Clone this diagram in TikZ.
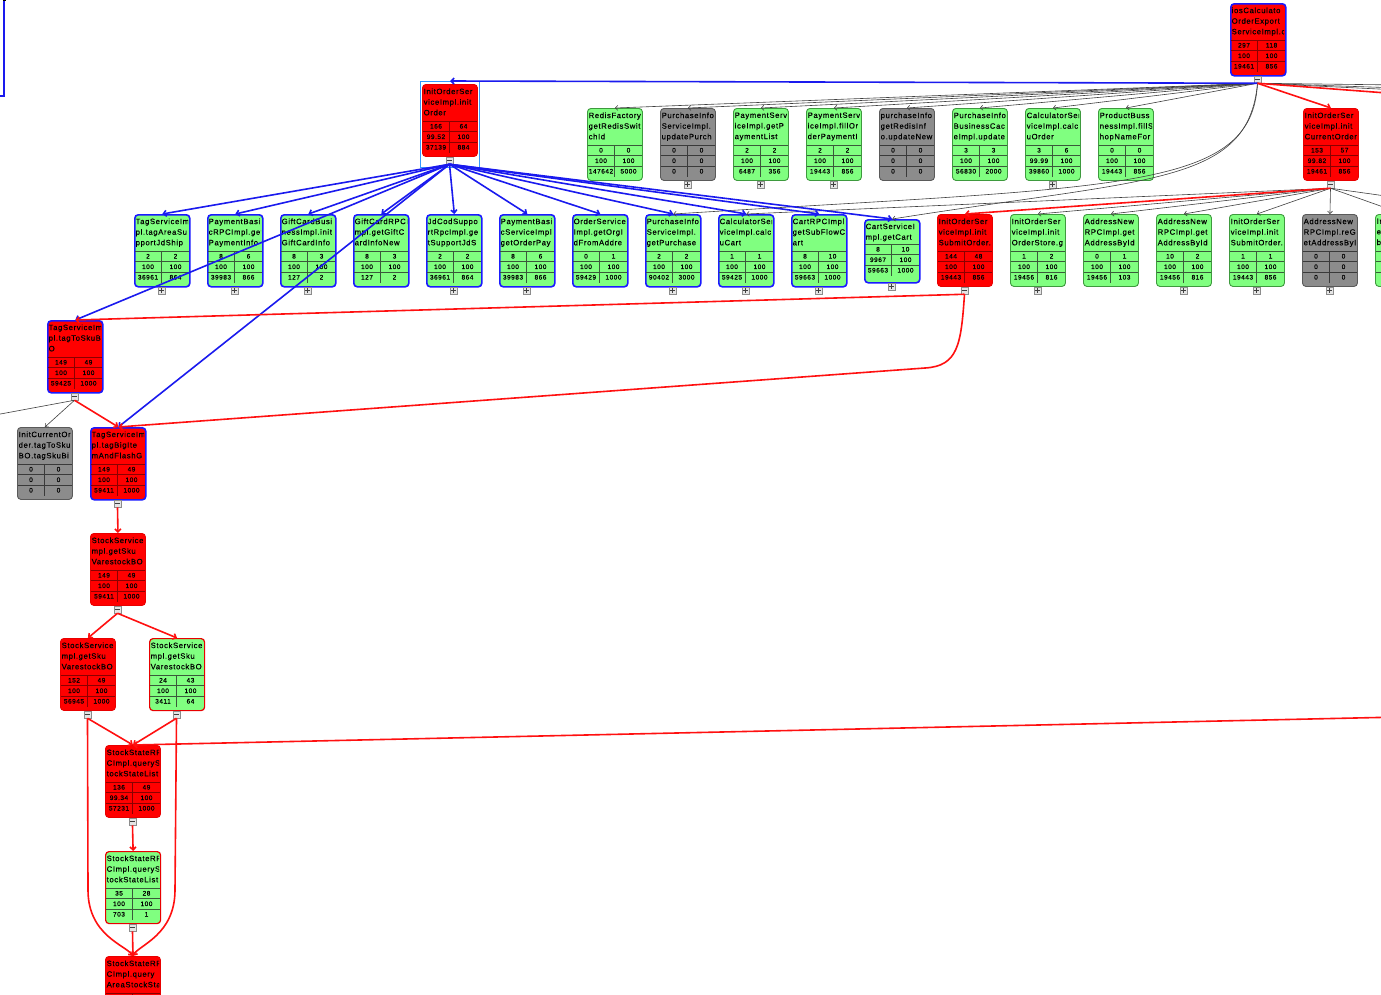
\documentclass[tikz,border=0pt]{standalone}
\usepackage{fontspec}
\setmainfont{Liberation Sans}
\newfontfamily\nbfont[LetterSpace=8,FakeBold=0.35]{Liberation Sans}
\usetikzlibrary{arrows.meta,calc}
\definecolor{gfill}{HTML}{80FF80}
\definecolor{gline}{HTML}{3E9A3E}
\definecolor{gtab}{HTML}{3A5A3A}
\definecolor{rfill}{HTML}{FF0000}
\definecolor{rline}{HTML}{E80000}
\definecolor{rtab}{HTML}{8A0000}
\definecolor{yfill}{HTML}{8C8C8C}
\definecolor{yline}{HTML}{5A5A5A}
\definecolor{ytab}{HTML}{3A3A3A}
\definecolor{bsel}{HTML}{1A1AFF}
\definecolor{selc}{HTML}{3399FF}
\definecolor{edgeB}{HTML}{1A1AEE}
\definecolor{edgeR}{HTML}{FF1010}
\newcommand\nbTabTop{37}
\newcommand\nbHeight{72}
\tikzset{
  nbox/.style={draw, rounded corners=3.5pt, anchor=north west, minimum width=55pt, minimum height=\nbHeight pt, inner sep=0pt, line width=0.9pt},
  kG/.style={fill=gfill, draw=gline},
  kGB/.style={fill=gfill, draw=bsel, line width=1.6pt},
  kGR/.style={fill=gfill, draw=rline, line width=1.2pt},
  kR/.style={fill=rfill, draw=rline},
  kRB/.style={fill=rfill, draw=bsel, line width=1.6pt},
  kY/.style={fill=yfill, draw=yline},
  kGt/.style={draw=gtab, line width=0.6pt},
  kGBt/.style={draw=gtab, line width=0.6pt},
  kGRt/.style={draw=gtab, line width=0.6pt},
  kRt/.style={draw=rtab, line width=0.6pt},
  kRBt/.style={draw=rtab, line width=0.6pt},
  kYt/.style={draw=ytab, line width=0.6pt},
  ntext/.style={anchor=north west, inner sep=0pt, align=left, font=\nbfont\fontsize{7.7}{10.6}\selectfont},
  nval/.style={inner sep=0pt, font=\nbfont\fontsize{6.5}{8}\selectfont},
  tog/.style={draw=black!45, fill=black!10, minimum size=7pt, inner sep=0pt, line width=0.5pt},
  togm/.style={draw=black!75, line width=0.6pt},
  eK/.style={draw=black!75, line width=0.6pt, -{Straight Barb[length=2.5pt,width=5pt]}},
  eB/.style={draw=edgeB, line width=1.6pt, -{Straight Barb[length=3pt,width=6pt]}},
  eR/.style={draw=edgeR, line width=1.6pt, -{Straight Barb[length=3pt,width=6pt]}},
}
\def\NBrow#1#2#3/#4\relax{%
  \node[nval] at (#1+14,#2) {#3};
  \node[nval] at (#1+41.5,#2) {#4};}
\newcommand\NB[9]{%
  \node[nbox,#4] (#1) at (#2,#3) {};
  \begin{scope}
    \clip (#2+1,#3+1) rectangle (#2+54,#3+\nbTabTop);
    \node[ntext] at (#2+1.5,#3+4.3) {#5};
  \end{scope}
  \draw[#4t] (#2+0.5,#3+\nbTabTop) -- ++(54,0)
    (#2+0.5,#3+\nbTabTop+10.5) -- ++(54,0)
    (#2+0.5,#3+\nbTabTop+21) -- ++(54,0)
    (#2+27.5,#3+\nbTabTop) -- ++(0,32);
  \NBrow{#2}{#3+\nbTabTop+5.25}#6\relax
  \NBrow{#2}{#3+\nbTabTop+15.75}#7\relax
  \NBrow{#2}{#3+\nbTabTop+26.25}#8\relax
  \if#9n\else
    \node[tog] (#1T) at (#2+27.5,#3+\nbHeight+4.5) {};
    \draw[togm] ($(#1T.center)+(-2.2,0)$) -- ($(#1T.center)+(2.2,0)$);
    \if#9p\draw[togm] ($(#1T.center)+(0,-2.2)$) -- ($(#1T.center)+(0,2.2)$);\fi
  \fi
}
\begin{document}
\begin{tikzpicture}[x=1pt,y=-1pt]
\clip (0,0) rectangle (1381,994);
\fill[white] (0,0) rectangle (1381,994);

% top-left fragment
\draw[draw=edgeB,line width=1.2pt] (4,0) -- (4,96) -- (0,96);
\draw[black,line width=1.2pt] (3.4,0.6) -- (6,0.6);

% root and first level
\NB{ios}{1230}{3}{kRB}{iosCalculato\\OrderExport\\ServiceImpl.c}{297/118}{100/100}{19461/856}{m}
\node[draw=selc, line width=1pt, anchor=north west, minimum width=59pt, minimum height=86pt, inner sep=0pt] (initSel) at (420,81) {};
\NB{initOrder}{422}{84}{kR}{InitOrderSer\\viceImpl.init\\Order}{166/64}{99.52/100}{37139/884}{m}
\NB{initCur}{1303}{108}{kR}{InitOrderSer\\viceImpl.init\\CurrentOrder}{153/57}{99.82/100}{19461/856}{m}

% top row
\NB{redis}{587}{108}{kG}{RedisFactory\\getRedisSwit\\chId}{0/0}{100/100}{147642/5000}{n}
\NB{pur1}{660}{108}{kY}{PurchaseInfo\\ServiceImpl.\\updatePurch}{0/0}{0/0}{0/0}{p}
\NB{pay1}{733}{108}{kG}{PaymentServ\\iceImpl.getP\\aymentList}{2/2}{100/100}{6487/356}{p}
\NB{pay2}{806}{108}{kG}{PaymentServ\\iceImpl.fillOr\\derPaymentI}{2/2}{100/100}{19443/856}{p}
\NB{pur2}{879}{108}{kY}{purchaseInfo\\getRedisInf\\o.updateNew}{0/0}{0/0}{0/0}{n}
\NB{pur3}{952}{108}{kG}{PurchaseInfo\\BusinessCac\\eImpl.update}{3/3}{100/100}{56830/2000}{n}
\NB{calc1}{1025}{108}{kG}{CalculatorSer\\viceImpl.calc\\uOrder}{3/6}{99.99/100}{39860/1000}{p}
\NB{prod}{1098}{108}{kG}{ProductBuss\\nessImpl.fillS\\hopNameFor}{0/0}{100/100}{19443/856}{n}

% second row
\NB{tagArea}{134}{214}{kGB}{TagServiceIm\\pl.tagAreaSu\\pportJdShip}{2/2}{100/100}{36961/864}{p}
\NB{payInfo}{207}{214}{kGB}{PaymentBasi\\cRPCImpl.get\\PaymentInfo}{8/6}{100/100}{39983/866}{p}
\NB{gift1}{280}{214}{kGB}{GiftCardBusi\\nessImpl.init\\GiftCardInfo}{8/3}{100/100}{127/2}{p}
\NB{gift2}{353}{214}{kGB}{GiftCardRPCI\\mpl.getGiftC\\ardInfoNew}{8/3}{100/100}{127/2}{n}
\NB{jdcod}{426}{214}{kGB}{JdCodSuppo\\rtRpcImpl.ge\\tSupportJdS}{2/2}{100/100}{36961/864}{p}
\NB{payOrd}{499}{214}{kGB}{PaymentBasi\\cServiceImpl\\getOrderPay}{8/6}{100/100}{39983/866}{p}
\NB{orgId}{572}{214}{kGB}{OrderService\\Impl.getOrgI\\dFromAddre}{0/1}{100/100}{59429/1000}{n}
\NB{getPur}{645}{214}{kGB}{PurchaseInfo\\ServiceImpl.\\getPurchase}{2/2}{100/100}{90402/3000}{p}
\NB{calcCart}{718}{214}{kGB}{CalculatorSer\\viceImpl.calc\\uCart}{1/1}{100/100}{59425/1000}{p}
\NB{cartRPC}{791}{214}{kGB}{CartRPCImpl.\\getSubFlowC\\art}{8/10}{100/100}{59663/1000}{p}
\renewcommand\nbTabTop{25}\renewcommand\nbHeight{63}
\NB{getCart}{864}{219}{kGB}{CartServiceI\\mpl.getCart}{8/10}{9967/100}{59663/1000}{p}
\renewcommand\nbTabTop{37}\renewcommand\nbHeight{72}
\NB{submit}{937}{214}{kR}{InitOrderSer\\viceImpl.init\\SubmitOrder.}{144/48}{100/100}{19443/856}{m}
\NB{store}{1010}{214}{kG}{InitOrderSer\\viceImpl.init\\OrderStore.g}{1/2}{100/100}{19456/816}{p}
\NB{addr1}{1083}{214}{kG}{AddressNew\\RPCImpl.get\\AddressById}{0/1}{100/100}{19456/103}{n}
\NB{addr2}{1156}{214}{kG}{AddressNew\\RPCImpl.get\\AddressById}{10/2}{100/100}{19456/816}{p}
\NB{submit2}{1229}{214}{kG}{InitOrderSer\\viceImpl.init\\SubmitOrder.}{1/1}{100/100}{19443/856}{p}
\NB{addr3}{1302}{214}{kY}{AddressNew\\RPCImpl.reG\\etAddressByI}{0/0}{0/0}{0/0}{p}
\NB{part}{1375}{214}{kG}{In\\e\\b}{/}{/}{/}{n}

% left column
\NB{tagSku}{47}{320}{kRB}{TagServiceIm\\pl.tagToSkuB\\O}{149/49}{100/100}{59425/1000}{m}
\NB{initCT}{17}{427}{kY}{InitCurrentOr\\der.tagToSku\\BO.tagSkuBi}{0/0}{0/0}{0/0}{n}
\NB{tagBig}{90}{427}{kRB}{TagServiceIm\\pl.tagBigIte\\mAndFlashG}{149/49}{100/100}{59411/1000}{m}
\NB{stock}{90}{533}{kR}{StockService\\mpl.getSku\\VarestockBO}{149/49}{100/100}{59411/1000}{m}
\NB{stockL}{60}{638}{kR}{StockService\\mpl.getSku\\VarestockBO}{152/49}{100/100}{56945/1000}{m}
\NB{stockR}{149}{638}{kGR}{StockService\\mpl.getSku\\VarestockBO}{24/43}{100/100}{3411/64}{m}
\NB{ss1}{105}{745}{kR}{StockStateRP\\CImpl.queryS\\tockStateList}{136/49}{99.34/100}{57231/1000}{m}
\NB{ss2}{105}{851}{kGR}{StockStateRP\\CImpl.queryS\\tockStateList}{35/28}{100/100}{703/1}{m}
\NB{ss3}{105}{956}{kR}{StockStateRP\\CImpl.query\\AreaStockSta}{/}{/}{/}{n}

% free ends
\coordinate (offA) at (1400,85);
\coordinate (offB) at (1400,88);
\coordinate (offC) at (1400,90);
\coordinate (offR) at (1400,94);
\coordinate (offD) at (1400,198);
\coordinate (offL) at (-5,415);
\coordinate (offS) at (1400,717);

% black connectors
\begin{scope}[eK]
\foreach \n in {redis,pur1,pay1,pay2,pur2,pur3,calc1,prod} \draw (iosT.south) -- (\n.north);
\draw (iosT.south) .. controls (1248,185) and (1150,178) .. (getCart.north);
\draw (iosT.south) .. controls (1252,192) and (1120,186) .. (getPur.north);
\draw (iosT.south) -- (offA);
\draw (iosT.south) -- (offB);
\draw (iosT.south) -- (offC);
\foreach \n in {store,addr1,addr2,submit2,addr3,part,calcCart} \draw (initCurT.south) -- (\n.north);
\draw (initCurT.south) -- (offD);
\draw (tagSkuT.south) -- (initCT.north);
\draw (tagSkuT.south) -- (offL);
\end{scope}

% blue connectors
\begin{scope}[eB]
\draw (iosT.south) -- (initSel.north);
\foreach \n in {tagArea,payInfo,gift1,gift2,jdcod,payOrd,orgId,getPur,calcCart,cartRPC,getCart,tagSku,tagBig} \draw (initOrderT.south) -- (\n.north);
\end{scope}

% red connectors
\begin{scope}[eR]
\draw (iosT.south) -- (initCur.north);
\draw (iosT.south) -- (offR);
\draw (initCurT.south) -- (submit.north);
\draw (submitT.south) -- (tagSku.north);
\draw (submitT.south) .. controls (961,345) and (958,366) .. (925,368) -- (tagBig.north);
\draw (tagSkuT.south) -- (tagBig.north);
\draw (tagBigT.south) -- (stock.north);
\draw (stockT.south) -- (stockL.north);
\draw (stockT.south) -- (stockR.north);
\draw (stockLT.south) -- (ss1.north);
\draw (stockRT.south) -- (ss1.north);
\draw (stockLT.south) -- (88,890) .. controls (88,935) and (125,945) .. (ss3.north);
\draw (stockRT.south) -- (175,890) .. controls (175,935) and (139,945) .. (ss3.north);
\draw (offS) -- (ss1.north);
\draw (ss1T.south) -- (ss2.north);
\draw (ss2T.south) -- (ss3.north);
\end{scope}
\end{tikzpicture}
\end{document}
